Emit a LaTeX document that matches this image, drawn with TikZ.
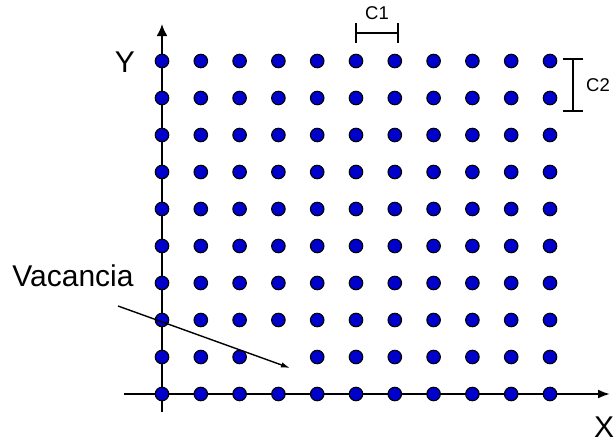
\documentclass[tikz,border=0pt]{standalone}
\usepackage{fontspec}
\setmainfont{Liberation Sans}
\usetikzlibrary{arrows.meta}
\definecolor{atomblue}{RGB}{0,0,204}

\begin{document}
\begin{tikzpicture}[x=1pt, y=-1pt]
  \tikzset{
    atom_node/.style={circle, fill=atomblue, draw=black, line width=1.1pt, inner sep=0pt, minimum size=13.5pt},
    axis_line/.style={line width=2.1pt},
    big_label/.style={font=\fontsize{30}{32}\selectfont, inner sep=0pt},
    small_label/.style={font=\fontsize{18.5}{20}\selectfont, inner sep=0pt}
  }

  % Marco de la figura
  \useasboundingbox (0,0) rectangle (615,442);

  % Extremos de los ejes
  \coordinate (x_start) at (124,394);
  \coordinate (x_end) at (610,394);
  \coordinate (y_start) at (162,412);
  \coordinate (y_end) at (162,24);

  % Ejes
  \draw[axis_line, -{Latex[length=12pt,width=9pt]}] (x_start) -- (x_end);
  \draw[axis_line, -{Latex[length=12pt,width=11pt]}] (y_start) -- (y_end);

  % Red de atomos (sin el de la vacancia)
  \foreach \i in {0,...,10} {
    \foreach \j in {0,...,9} {
      \ifnum\i=3 \ifnum\j=8 \else
        \node[atom_node] (a\i\j) at (162+38.8*\i, 61+37*\j) {};
      \fi \else
        \node[atom_node] (a\i\j) at (162+38.8*\i, 61+37*\j) {};
      \fi
    }
  }
  \coordinate (hueco) at (278.4,357);

  % Etiquetas de los ejes
  \node[big_label] (lab_y) at (125,62) {Y};
  \node[big_label, anchor=base] (lab_x) at (604,437) {X};

  % Vacancia
  \node[big_label] (lab_vac) at (73,276) {Vacancia};
  \coordinate (vac_start) at (118,306);
  \coordinate (vac_end) at (290,368);
  \draw[line width=1.4pt, -{Latex[length=9pt,width=5.5pt]}] (vac_start) -- (vac_end);

  % Parametro de red C1
  \coordinate (c1_left) at (356,33);
  \coordinate (c1_right) at (398,33);
  \draw[line width=1.1pt] (c1_left) -- (c1_right);
  \draw[line width=1.1pt] ([yshift=-10pt]c1_left) -- ([yshift=10pt]c1_left);
  \draw[line width=1.1pt] ([yshift=-10pt]c1_right) -- ([yshift=10pt]c1_right);
  \node[small_label] (lab_c1) at (377,13) {C1};

  % Parametro de red C2
  \coordinate (c2_top) at (573,59);
  \coordinate (c2_bottom) at (573,111);
  \draw[line width=1.1pt] (c2_top) -- (c2_bottom);
  \draw[line width=1.1pt] ([xshift=-10pt]c2_top) -- ([xshift=10pt]c2_top);
  \draw[line width=1.1pt] ([xshift=-10pt]c2_bottom) -- ([xshift=10pt]c2_bottom);
  \node[small_label] (lab_c2) at (598,85) {C2};
\end{tikzpicture}
\end{document}
